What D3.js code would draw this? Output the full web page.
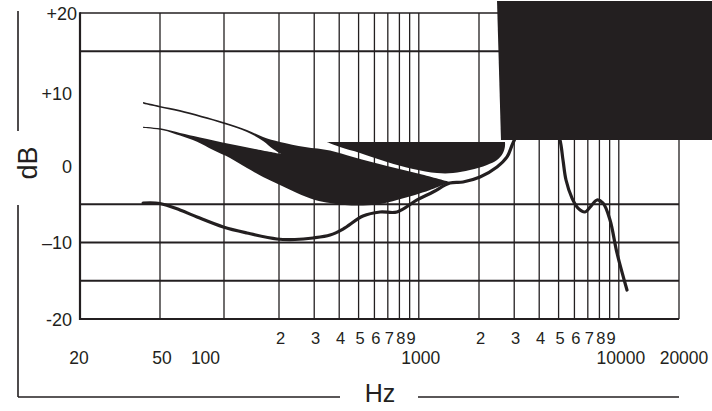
<!DOCTYPE html>
<html lang="en">
<head>
<meta charset="UTF-8">
<title>Frequency response</title>
<script src="https://d3js.org/d3.v7.min.js"></script>
<style>
  body { margin: 0; background: #fff; }
  svg { display: block; }
  text { font-family: "Liberation Sans", Arial, Helvetica, sans-serif; fill: #231f20; }
</style>
</head>
<body>
<svg width="712" height="411"></svg>
<script>
// main response curve [Hz, dB]
const response = [
  [41.2, -4.84], [50, -4.90], [62.1, -5.75], [74.7, -6.67], [99.2, -7.97],
  [133.6, -8.76], [195, -9.54], [240, -9.61], [296, -9.41], [360, -9.02],
  [418, -8.24], [526, -6.54], [640, -6.01], [778, -6.01], [980, -4.44],
  [1178, -3.40], [1432, -2.22], [1664, -2.09], [2023, -1.44], [2461, -0.13],
  [2761, 1.18], [2958, 3.01], [3397, 6.0], [4037, 7.6], [4634, 6.3],
  [5080, 3.40], [5260, 0.78], [5446, -1.83], [5836, -4.2], [6253, -5.5],
  [6777, -6.01], [7262, -5.23], [7782, -4.44], [8339, -4.84], [9038, -7.06],
  [9794, -11.37], [10990, -16.21]
];

// proximity band: upper edge (left to right)
const bandUpper = [
  [41.2, 8.35], [50, 7.84], [62.1, 7.32], [99.2, 5.75], [133.6, 4.71],
  [163.6, 3.79], [202.3, 3.14], [269.8, 2.48], [359.8, 2.03], [468.9, 1.18],
  [693.4, 0.0], [1014, -1.05], [1432, -2.09]
];
// proximity band: lower edge (right to left)
const bandLower = [
  [1432, -2.09], [1138, -3.14], [957, -3.79], [778, -4.44], [640, -4.97],
  [526, -5.16], [427.6, -5.10], [359.8, -4.84], [302.7, -4.44], [246, -3.53],
  [202.3, -2.48], [163.6, -1.44], [133.6, -0.26], [107.9, 1.05], [88.9, 2.09],
  [74.7, 3.18], [62.1, 3.98], [51.6, 4.68], [41.2, 4.97]
];
// white notch: lower side (left to right), then upper side (right to left)
const notchLower = [
  [41.2, 5.12], [51.6, 4.86], [62.1, 4.31], [77.1, 3.73], [107.9, 2.88],
  [147.8, 2.22], [204.7, 1.57]
];
const notchUpper = [
  [204.7, 1.57], [185.5, 2.22], [163.6, 3.27], [133.6, 4.44], [99.2, 5.52],
  [62.1, 7.08], [50, 7.66], [41.2, 8.15]
];

// second proximity region: lower edge, closed by a flat top
const midLower = [
  [347.6, 3.14], [403.7, 2.48], [508.2, 1.70], [693.4, 0.52], [935.8, -0.39],
  [1233, -0.92], [1483, -0.92], [1803, -0.52], [2193, 0.13], [2461, 0.78],
  [2636, 1.70], [2698, 2.61], [2698, 3.14]
];

// black block covering the upper right
const maskBlock = [[2461, 21.57], [29245, 21.57], [29245, 3.40], [2576, 3.40]];

const gridHz = [50, 100, 200, 300, 400, 500, 600, 700, 800, 900, 1000,
  2000, 3000, 4000, 5000, 6000, 7000, 8000, 9000, 10000, 20000];
const gridDb = [20, 15, -5, -10, -15, -20];
const digitHz = [200, 300, 400, 500, 600, 700, 800, 900,
  2000, 3000, 4000, 5000, 6000, 7000, 8000, 9000];
const decadeHz = [20, 50, 100, 1000, 10000, 20000];
const yTickDb = [20, 10, 0, -10, -20];
const yTickText = ["+20", "+10", "0", "\u201310", "-20"];

const ink = "#231f20";
const svg = d3.select("svg");

const xLog = d3.scaleLinear()
  .domain([20, 50, 100, 200, 20000].map(Math.log10))
  .range([80, 160, 224, 279, 679]);
const x = f => xLog(Math.log10(f));
const y = d3.scaleLinear().domain([-20, 20]).range([319, 13]);

// grid
svg.append("g").selectAll("line").data(gridHz).join("line")
  .attr("x1", d => x(d)).attr("x2", d => x(d))
  .attr("y1", y(20)).attr("y2", y(-20))
  .attr("stroke", ink).attr("stroke-width", 1.3);

svg.append("g").selectAll("line").data(gridDb).join("line")
  .attr("x1", x(20)).attr("x2", x(20000))
  .attr("y1", d => y(d)).attr("y2", d => y(d))
  .attr("stroke", ink)
  .attr("stroke-width", d => d === 20 ? 1.5 : d === -20 ? 2.2 : 1.8);

svg.append("line")
  .attr("x1", x(20)).attr("x2", x(20))
  .attr("y1", y(20) - 0.75).attr("y2", y(-20) + 1.1)
  .attr("stroke", ink).attr("stroke-width", 2.2);

const line = d3.line()
  .x(d => x(d[0])).y(d => y(d[1]))
  .curve(d3.curveCatmullRom.alpha(0.5));

// join several smooth edges into one closed outline
function outline(edges) {
  return edges.map((e, i) => {
    const s = line(e);
    return i === 0 ? s : "L" + s.slice(1);
  }).join("") + "Z";
}

svg.append("path")
  .attr("d", outline([bandUpper, bandLower, notchLower, notchUpper]))
  .attr("fill", ink);
svg.append("path")
  .attr("d", outline([midLower]))
  .attr("fill", ink);

svg.append("path")
  .attr("d", line(response))
  .attr("fill", "none")
  .attr("stroke", ink)
  .attr("stroke-width", 3.2)
  .attr("stroke-linecap", "round")
  .attr("stroke-linejoin", "round");

svg.append("path")
  .attr("d", d3.line().x(d => x(d[0])).y(d => y(d[1]))(maskBlock) + "Z")
  .attr("fill", ink);

// y labels
svg.append("g").selectAll("text").data(yTickDb).join("text")
  .attr("x", d => d === 20 ? 77 : 72)
  .attr("y", d => y(d) + (d === 10 ? 10 : 6.5))
  .attr("text-anchor", "end")
  .attr("font-size", 18)
  .text((d, i) => yTickText[i]);

// x labels
svg.append("g").selectAll("text").data(digitHz).join("text")
  .attr("x", d => x(d) + 1.5)
  .attr("y", 343.5)
  .attr("text-anchor", "middle")
  .attr("font-size", 16.5)
  .text(d => d / Math.pow(10, Math.floor(Math.log10(d))));

svg.append("g").selectAll("text").data(decadeHz).join("text")
  .attr("x", d => x(d) + (d === 100 ? -18.5 : d === 20000 ? 5 : d === 20 ? -1 : 2))
  .attr("y", 364)
  .attr("text-anchor", "middle")
  .attr("font-size", 17.5)
  .text(d => d);

// axis titles with rules
const deco = [[18, 11, 18, 131], [18, 205, 18, 397], [18, 397, 340, 397], [418, 397, 679, 397]];
svg.append("g").selectAll("line").data(deco).join("line")
  .attr("x1", d => d[0]).attr("y1", d => d[1])
  .attr("x2", d => d[2]).attr("y2", d => d[3])
  .attr("stroke", ink).attr("stroke-width", 1.6);

svg.append("text")
  .attr("transform", "translate(37,163) rotate(-90)")
  .attr("text-anchor", "middle")
  .attr("font-size", 27)
  .text("dB");

svg.append("text")
  .attr("x", 380).attr("y", 402)
  .attr("text-anchor", "middle")
  .attr("font-size", 25)
  .text("Hz");
</script>
</body>
</html>
